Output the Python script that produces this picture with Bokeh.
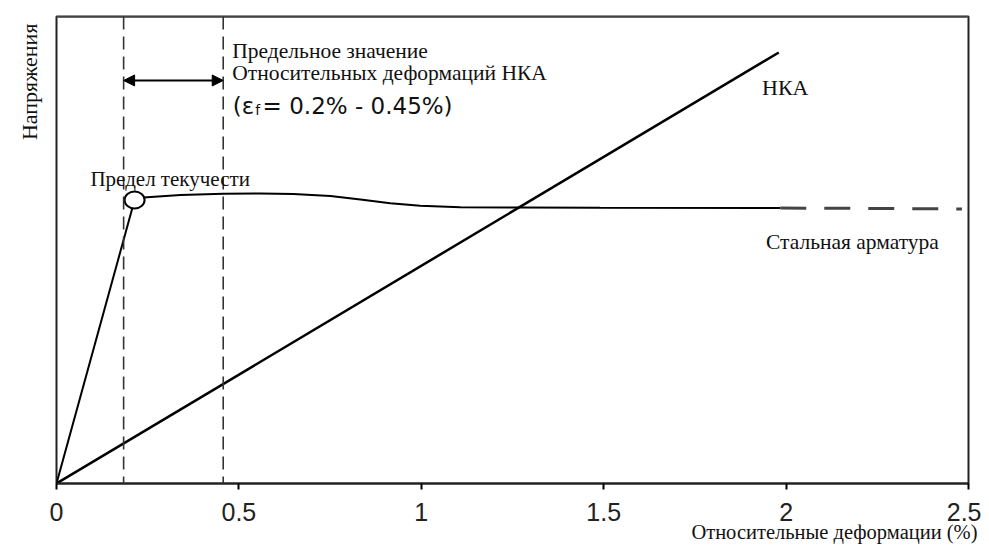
from bokeh.plotting import figure
from bokeh.models import Range1d, FixedTicker, Label, Span, Arrow, NormalHead, Title
from bokeh.embed import file_html
from bokeh.resources import INLINE

# ---- data ----
nka_x = [0.0, 1.98]
nka_y = [0.0, 92.3]

steel_elastic_x = [0.0, 0.214]
steel_elastic_y = [0.0, 60.7]

steel_x = [0.214, 0.238, 0.340, 0.458, 0.559, 0.649, 0.751, 0.833, 0.915, 0.997, 1.107, 1.271, 1.490, 1.984]
steel_y = [60.7, 61.24, 61.78, 62.03, 62.10, 61.99, 61.56, 60.81, 60.02, 59.46, 59.16, 59.10, 59.04, 58.99]

steel_ext_x = [1.984, 2.482]
steel_ext_y = [58.99, 58.8]

yield_x = [0.214]
yield_y = [60.7]

strain_limits = [0.184, 0.457]

tick_values = [0, 0.5, 1, 1.5, 2, 2.5]
tick_labels = ["0", "0.5", "1", "1.5", "2", "2.5"]

x_title = "Относительные деформации (%)"
y_title = "Напряжения"

SERIF = "Liberation Serif"
SANS = "Liberation Sans"

p = figure(width=981, height=546, output_backend="svg", toolbar_location=None,
           x_range=Range1d(0, 2.5), y_range=Range1d(0, 100),
           min_border_left=56, min_border_right=13, min_border_top=16, min_border_bottom=63)
p.background_fill_color = "white"
p.border_fill_color = "white"
p.grid.visible = False
p.yaxis.visible = False
p.outline_line_color = "#222222"
p.outline_line_width = 2

ax = p.xaxis[0]
ax.ticker = FixedTicker(ticks=tick_values)
ax.major_label_overrides = {v: l for v, l in zip(tick_values, tick_labels)}
ax.axis_line_width = 2
ax.axis_line_color = "#222222"
ax.major_tick_out = 6
ax.major_tick_in = 0
ax.major_tick_line_width = 2
ax.minor_tick_out = 0
ax.minor_tick_in = 0
ax.major_label_text_font = SANS
ax.major_label_text_font_size = "25px"
ax.major_label_text_color = "#222222"
ax.major_label_standoff = 13

p.add_layout(Span(location=100, dimension="width", line_color="#666666", line_width=3))

# dashed strain limits
for xv in strain_limits:
    p.add_layout(Span(location=xv, dimension="height", line_color="#333333",
                      line_width=1.6, line_dash="13 7"))

# lines
p.line(nka_x, nka_y, line_color="black", line_width=2.5)
p.line(steel_elastic_x, steel_elastic_y, line_color="black", line_width=2)
p.line(steel_x, steel_y, line_color="black", line_width=2)
p.line(steel_ext_x, steel_ext_y, line_color="#444444", line_width=3, line_dash="26 18")
p.ellipse(yield_x, yield_y, width=20, height=17, width_units="screen", height_units="screen",
          fill_color="white", line_color="black", line_width=2)

# double arrow
p.add_layout(Arrow(x_start=strain_limits[0], y_start=86.3, x_end=strain_limits[1], y_end=86.3,
                   line_width=2, line_color="black",
                   start=NormalHead(size=11, fill_color="black", line_color="black"),
                   end=NormalHead(size=11, fill_color="black", line_color="black")))


def lab(x, y, text, font=SERIF, size="21px", **kw):
    p.add_layout(Label(x=x, y=y, text=text, text_font=font, text_font_size=size,
                       text_color="#111111", text_baseline="alphabetic", **kw))


lab(0.482, 92.6, "Предельное значение", size="21.5px")
lab(0.482, 87.9, "Относительных деформаций НКА", size="21.5px")
lab(0.483, 80.9, "(ε", font="DejaVu Sans", size="23px")
lab(0.545, 79.9, "f", font="DejaVu Sans", size="14px")
lab(0.565, 80.9, "= 0.2% - 0.45%)", font="DejaVu Sans", size="23px")
lab(0.093, 65.1, "Предел текучести")
lab(1.934, 84.8, "НКА", size="22px")
lab(1.945, 51.8, "Стальная арматура", size="21.5px")

ytitle = Title(text=y_title, align="right", text_font=SERIF, text_font_size="22px",
               text_font_style="normal", text_color="#111111", standoff=29, offset=7)
p.add_layout(ytitle, "left")

xtitle = Title(text=x_title, align="right", text_font=SERIF, text_font_size="20.5px",
               text_font_style="normal", text_color="#111111", offset=-9)
try:
    xtitle.standoff = -9
except ValueError:
    xtitle.standoff = 0
p.add_layout(xtitle, "below")

open("out.html", "w").write(file_html(p, INLINE))
